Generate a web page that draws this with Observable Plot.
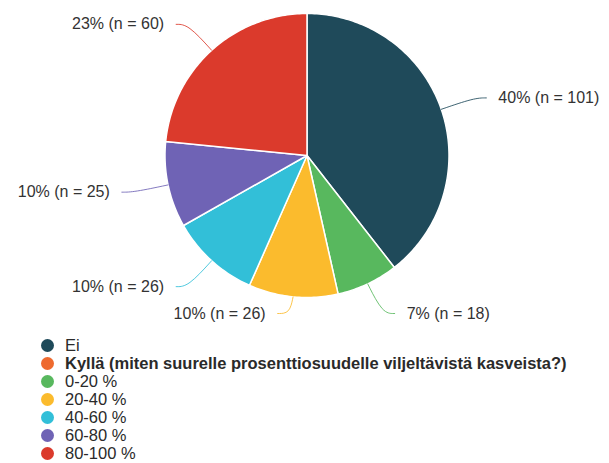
<!DOCTYPE html>
<html>
<head>
<meta charset="utf-8">
<script src="https://cdn.jsdelivr.net/npm/d3@7"></script>
<script src="https://cdn.jsdelivr.net/npm/@observablehq/plot@0.6"></script>
<style>
  html, body { margin: 0; padding: 0; background: #fff; }
  body { width: 609px; height: 463px; overflow: hidden; font-family: Arial, "Liberation Sans", sans-serif; }
  #legend { margin-top: 6px; font-size: 16.5px; line-height: 18px; color: #2a2a2a; }
  .row { display: flex; align-items: center; height: 18px; padding-left: 41px; }
  .dot { width: 13px; height: 13px; border-radius: 50%; margin-right: 11px; flex: none; }
</style>
</head>
<body>
<div id="chart"></div>
<div id="legend"></div>
<script>
const categories = ["Ei", "Kyllä (miten suurelle prosenttiosuudelle viljeltävistä kasveista?)", "0-20 %", "20-40 %", "40-60 %", "60-80 %", "80-100 %"];
const counts = [101, 0, 18, 26, 26, 25, 60];
const percentLabels = ["40%", "0%", "7%", "10%", "10%", "10%", "23%"];
const colors = ["#1f4a5a", "#ee6a2f", "#58b85e", "#fbbb2d", "#32bfd8", "#6f63b5", "#db3a2c"];

const W = 609, H = 330, cx = 306.5, cy = 155, R = 142;
const total = d3.sum(counts);

let acc = 0;
const slices = categories.map((key, i) => {
  const a0 = acc / total * 2 * Math.PI;
  acc += counts[i];
  const a1 = acc / total * 2 * Math.PI;
  return {key, n: counts[i], a0, a1, mid: (a0 + a1) / 2, label: `${percentLabels[i]} (n = ${counts[i]})`};
}).filter(s => s.n > 0);

// slice polygons in unit coordinates
const polys = [];
for (const s of slices) {
  polys.push({key: s.key, x: 0, y: 0});
  const steps = Math.max(2, Math.ceil((s.a1 - s.a0) / (Math.PI / 180)));
  for (let k = 0; k <= steps; k++) {
    const a = s.a0 + (s.a1 - s.a0) * k / steps;
    polys.push({key: s.key, x: Math.sin(a), y: Math.cos(a)});
  }
  polys.push({key: s.key, x: 0, y: 0});
}

// label anchors
const kOut = 1 + 35 / R;
const yMin = (cy - 313) / R, yMax = (cy - 16) / R;
const labels = slices.map(s => {
  const side = Math.sin(s.mid) >= 0 ? 1 : -1;
  let lx = kOut * Math.sin(s.mid), ly = kOut * Math.cos(s.mid);
  ly = Math.max(yMin, Math.min(yMax, ly));
  return {...s, side, lx, ly};
});
const leaders = [];
for (const l of labels) {
  leaders.push({key: l.key, x: Math.sin(l.mid), y: Math.cos(l.mid)});
  leaders.push({key: l.key, x: l.lx, y: l.ly});
  leaders.push({key: l.key, x: l.lx + l.side * 12 / R, y: l.ly});
}

const chart = Plot.plot({
  width: W, height: H,
  margin: 0,
  x: {type: "linear", domain: [-1, 1], range: [cx - R, cx + R], axis: null},
  y: {type: "linear", domain: [-1, 1], range: [cy + R, cy - R], axis: null},
  color: {domain: categories, range: colors},
  style: {fontFamily: 'Arial, "Liberation Sans", sans-serif', fontSize: "16px", background: "#fff", overflow: "visible"},
  marks: [
    Plot.line(polys, {x: "x", y: "y", z: "key", fill: "key", stroke: "#fff", strokeWidth: 1.5, strokeLinejoin: "round", curve: "linear"}),
    Plot.line(leaders, {x: "x", y: "y", z: "key", stroke: "key", strokeWidth: 1, curve: "basis", strokeOpacity: 0.85}),
    Plot.text(labels.filter(l => l.side > 0), {x: "lx", y: "ly", text: "label", textAnchor: "start", dx: 24, fill: "#333", fontSize: 16}),
    Plot.text(labels.filter(l => l.side < 0), {x: "lx", y: "ly", text: "label", textAnchor: "end", dx: -24, fill: "#333", fontSize: 16})
  ]
});
document.getElementById("chart").appendChild(chart);

const legend = document.getElementById("legend");
categories.forEach((c, i) => {
  const row = document.createElement("div");
  row.className = "row";
  const dot = document.createElement("span");
  dot.className = "dot";
  dot.style.background = colors[i];
  const t = document.createElement("span");
  t.textContent = c;
  if (i === 1) t.style.fontWeight = "bold";
  row.appendChild(dot);
  row.appendChild(t);
  legend.appendChild(row);
});
</script>
</body>
</html>
